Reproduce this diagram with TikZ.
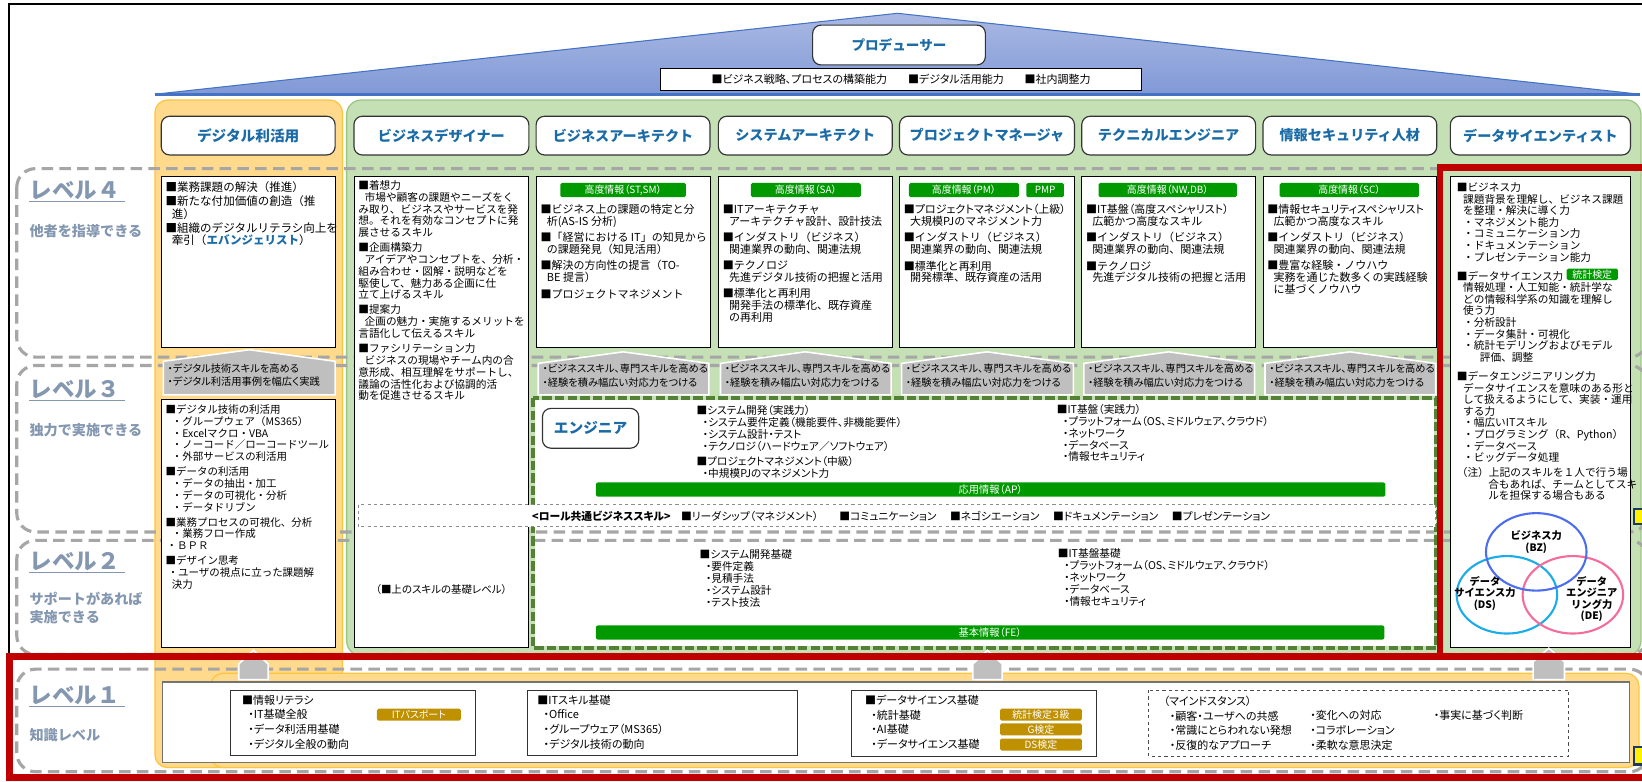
\documentclass[tikz,border=0pt]{standalone}
\usepackage{fontspec}
\setmainfont{Noto Sans CJK JP}
\newfontfamily\jpn[RawFeature={+palt}]{Noto Sans CJK JP}
\usetikzlibrary{calc}
\newcommand{\myind}{\hspace*{6pt}}
\definecolor{hblue}{HTML}{1A6BA6}
\definecolor{lblue}{HTML}{8497B0}
\definecolor{bgreen}{HTML}{009A00}
\definecolor{bgold}{HTML}{BF9000}
\definecolor{orgF}{HTML}{FFD98C}
\definecolor{orgE}{HTML}{FFC43D}
\definecolor{grnF}{HTML}{C5E0B4}
\definecolor{grnE}{HTML}{9CC584}
\definecolor{lgray}{HTML}{A6A6A6}
\definecolor{pgray}{HTML}{BFBFBF}
\definecolor{egreen}{HTML}{548235}
\definecolor{redF}{HTML}{C00000}
\definecolor{roofT}{HTML}{AAB9E3}
\definecolor{roofB}{HTML}{8099D6}
\definecolor{roofE}{HTML}{4472C4}
\definecolor{vblue}{HTML}{4D6DF0}
\definecolor{vcyan}{HTML}{1AACE8}
\definecolor{vpink}{HTML}{F56C9C}
\definecolor{mnavy}{HTML}{1F3864}
\begin{document}
\begin{tikzpicture}[x=1pt,y=-1pt,
 wbox/.style={draw=black, line width=0.8pt, fill=white},
 hdr/.style={draw=black!80, line width=1.1pt, fill=white, rounded corners=8pt, minimum height=37pt, inner sep=0pt, font=\fontsize{13.5}{15}\selectfont\bfseries, text=hblue},
 tx/.style={anchor=north west, align=left, inner sep=0pt, font=\fontsize{10.5}{11.2}\selectfont},
 txd/.style={anchor=north west, align=left, inner sep=0pt, font=\fontsize{10.2}{11.3}\selectfont},
 txn/.style={anchor=north west, align=left, inner sep=0pt, font=\jpn\fontsize{10.2}{11.3}\selectfont},
 lone/.style={anchor=north west, align=left, inner sep=0pt, font=\jpn\fontsize{10.5}{14}\selectfont},
 gbadge/.style={fill=bgreen, rounded corners=1.5pt, text=white, inner sep=0pt, minimum height=13.5pt, font=\jpn\fontsize{9.5}{10}\selectfont},
 ybadge/.style={fill=bgold, rounded corners=1.5pt, text=white, inner sep=0pt, minimum height=11.5pt, minimum width=78pt, font=\jpn\fontsize{9.5}{10}\selectfont},
 lvl/.style={draw=lgray, line width=3pt, dash pattern=on 11pt off 6pt, rounded corners=18pt},
 penta/.style={fill=pgray, draw=white, line width=1.5pt},
 ptx/.style={anchor=north west, align=left, inner sep=0pt, font=\jpn\fontsize{9.8}{14}\selectfont},
 lvltitle/.style={anchor=west, inner sep=0pt, text=lblue, font=\fontsize{21.5}{24}\selectfont\bfseries},
 lvlsub/.style={anchor=west, inner sep=0pt, text=lblue, font=\fontsize{13.5}{17}\selectfont\bfseries},
 ul/.style={lblue, line width=1.3pt},
 gbar/.style={fill=bgreen, rounded corners=2pt, text=white, inner sep=0pt, minimum height=13.5pt, font=\jpn\fontsize{9.8}{10}\selectfont},
 venn/.style={align=center, inner sep=0pt, font=\fontsize{9.8}{11}\selectfont\bfseries}
]
\useasboundingbox (0,0) rectangle (1568,746);
\fill[white] (0,0) rectangle (1568,746);
\draw[black, line width=1.5pt] (8.5,746) -- (8.5,4) -- (1568,4);

% roof
\shade[top color=roofT, bottom color=roofB] (148,90) -- (857,12.7) -- (1566,90) -- cycle;
\draw[roofE, line width=1pt] (148,90) -- (857,12.7) -- (1566,90);
\draw[roofE, line width=2.5pt] (148,90) -- (1566,90);
\node[hdr, minimum width=165pt, minimum height=38pt, font=\fontsize{13}{15}\selectfont\bfseries] (prod) at (858.5,43) {プロデューサー};
\node[draw=black, fill=white, line width=0.8pt, minimum width=459pt, minimum height=21pt, inner sep=0pt, font=\jpn\fontsize{10.5}{12}\selectfont] (pskill) at (860.5,76) {■ビジネス戦略、プロセスの構築能力\hspace{20pt}■デジタル活用能力\hspace{20pt}■社内調整力};

% backgrounds
\draw[fill=orgF, draw=orgE, line width=1.2pt, rounded corners=12pt] (148,95.5) rectangle (327,733);
\draw[fill=orgF, draw=orgE, line width=1.2pt, rounded corners=12pt] (201,643) rectangle (1565,733);
\draw[fill=grnF, draw=grnE, line width=1.2pt, rounded corners=14pt] (331,95.5) rectangle (1567,626);
\fill[white] (509,380) rectangle (1371,619);

% level bands
\draw[lvl] (16,161) rectangle (1574,341);
\draw[lvl] (16,349) rectangle (1574,508);
\draw[lvl] (16,516) rectangle (1574,625);
\draw[lvl] (16,639) rectangle (1574,737);

\node[lvltitle] (l4t) at (28,182) {レベル４};
\draw[ul] ([yshift=-1.5pt]l4t.south west) -- ([yshift=-1.5pt,xshift=5pt]l4t.south east);
\node[lvlsub] (l4s) at (28,221) {他者を指導できる};
\node[lvltitle] (l3t) at (28,372) {レベル３};
\draw[ul] ([yshift=-1.5pt]l3t.south west) -- ([yshift=-1.5pt,xshift=5pt]l3t.south east);
\node[lvlsub] (l3s) at (28,411) {独力で実施できる};
\node[lvltitle] (l2t) at (28,536) {レベル２};
\draw[ul] ([yshift=-1.5pt]l2t.south west) -- ([yshift=-1.5pt,xshift=5pt]l2t.south east);
\node[lvlsub, anchor=north west, align=left] (l2s) at (28,565) {サポートがあれば\\実施できる};
\node[lvltitle] (l1t) at (28,664) {レベル１};
\draw[ul] ([yshift=-1.5pt]l1t.south west) -- ([yshift=-1.5pt,xshift=5pt]l1t.south east);
\node[lvlsub] (l1s) at (28,702) {知識レベル};

% headers
\node[hdr, minimum width=166pt, font=\fontsize{14}{15}\selectfont\bfseries] (hdig) at (237,129.5) {デジタル利活用};
\node[hdr, minimum width=167pt] (hbd) at (421.5,129.5) {ビジネスデザイナー};
\node[hdr, minimum width=166pt] (hba) at (595,129.5) {ビジネスアーキテクト};
\node[hdr, minimum width=166pt] (hsa) at (769,129.5) {システムアーキテクト};
\node[hdr, minimum width=167pt] (hpm) at (942.5,129.5) {プロジェクトマネージャ};
\node[hdr, minimum width=166pt] (hte) at (1116,129.5) {テクニカルエンジニア};
\node[hdr, minimum width=166pt] (hsc) at (1289,129.5) {情報セキュリティ人材};
\node[hdr, minimum width=172pt] (hds) at (1471,129.5) {データサイエンティスト};

% white boxes
\draw[wbox] (154,168) rectangle (320,332);
\draw[wbox] (338,168) rectangle (505,618);
\draw[wbox] (512,168) rectangle (678,332);
\draw[wbox] (686,168) rectangle (852,332);
\draw[wbox] (859,168) rectangle (1026,332);
\draw[wbox] (1033,168) rectangle (1199,332);
\draw[wbox] (1206,168) rectangle (1372,332);
\draw[wbox] (1385,168) rectangle (1557,618);
\draw[wbox] (154,381) rectangle (320,618);

% digital L4
\node[tx, font=\fontsize{11}{11.8}\selectfont] (dig4) at (158,173.5) {■業務課題の解決（推進）\\[1.5pt]
■新たな付加価値の創造（推\\
\myind 進）\\[2pt]
■組織のデジタルリテラシ向上を\\
\myind 牽引（{\color{hblue}\bfseries エバンジェリスト}）};

% BD
\node[txd] (bdtx) at (342,172) {■着想力\\
\myind 市場や顧客の課題やニーズをく\\
み取り、ビジネスやサービスを発\\
想。それを有効なコンセプトに発\\
展させるスキル\\[3pt]
■企画構築力\\
\myind アイデアやコンセプトを、分析・\\
組み合わせ・図解・説明などを\\
駆使して、魅力ある企画に仕\\
立て上げるスキル\\[3pt]
■提案力\\
\myind 企画の魅力・実施するメリットを\\
言語化して伝えるスキル\\[3pt]
■ファシリテーション力\\
\myind ビジネスの現場やチーム内の合\\
意形成、相互理解をサポートし、\\
議論の活性化および協調的活\\
動を促進させるスキル};

% badges
\node[gbadge, minimum width=120pt] (bba) at (595,181.5) {高度情報（ST,SM）};
\node[gbadge, minimum width=105pt] (bsa) at (769.5,181.5) {高度情報（SA）};
\node[gbadge, minimum width=105pt] (bpm) at (920.5,181.5) {高度情報（PM）};
\node[gbadge, minimum width=36pt] (bpmp) at (998,181.5) {PMP};
\node[gbadge, minimum width=132pt] (bte) at (1115,181.5) {高度情報（NW,DB）};
\node[gbadge, minimum width=133pt] (bsc) at (1288.5,181.5) {高度情報（SC）};

\node[tx] (batx) at (516,195) {■ビジネス上の課題の特定と分\\
\myind 析(AS-IS 分析)\\[4.5pt]
■「経営における IT」の知見から\\
\myind の課題発見（知見活用）\\[4.5pt]
■解決の方向性の提言（TO-\\
\myind BE 提言）\\[4.5pt]
■プロジェクトマネジメント};
\node[tx] (satx) at (690,195) {■ITアーキテクチャ\\
\myind アーキテクチャ設計、設計技法\\[4.5pt]
■インダストリ（ビジネス）\\
\myind 関連業界の動向、関連法規\\[4.5pt]
■テクノロジ\\
\myind 先進デジタル技術の把握と活用\\[4.5pt]
■標準化と再利用\\
\myind 開発手法の標準化、既存資産\\
\myind の再利用};
\node[tx] (pmtx) at (863,195) {{\jpn ■プロジェクトマネジメント（上級）}\\
\myind 大規模PJのマネジメント力\\[4.5pt]
■インダストリ（ビジネス）\\
\myind 関連業界の動向、関連法規\\[4.5pt]
■標準化と再利用\\
\myind 開発標準、既存資産の活用};
\node[tx] (tetx) at (1037,195) {{\jpn ■IT基盤（高度スペシャリスト）}\\
\myind 広範かつ高度なスキル\\[4.5pt]
■インダストリ（ビジネス）\\
\myind 関連業界の動向、関連法規\\[4.5pt]
■テクノロジ\\
\myind 先進デジタル技術の把握と活用};
\node[tx] (sctx) at (1210,195) {{\jpn ■情報セキュリティスペシャリスト}\\
\myind 広範かつ高度なスキル\\[4.5pt]
■インダストリ（ビジネス）\\
\myind 関連業界の動向、関連法規\\[4.5pt]
■豊富な経験・ノウハウ\\
\myind 実務を通じた数多くの実践経験\\
\myind に基づくノウハウ};

% DS
\node[tx, font=\fontsize{10.2}{11.1}\selectfont] (dstx) at (1391,174) {■ビジネス力\\
\myind 課題背景を理解し、ビジネス課題\\
\myind を整理・解決に導く力\\
\myind・マネジメント能力\\
\myind・コミュニケーション力\\
\myind・ドキュメンテーション\\
\myind・プレゼンテーション能力\\[7pt]
■データサイエンス力\\
\myind 情報処理・人工知能・統計学な\\
\myind どの情報科学系の知識を理解し\\
\myind 使う力\\
\myind・分析設計\\
\myind・データ集計・可視化\\
\myind・統計モデリングおよびモデル\\
\myind\hspace*{16pt}評価、調整\\[7pt]
■データエンジニアリング力\\
\myind データサイエンスを意味のある形と\\
\myind して扱えるようにして、実装・運用\\
\myind する力\\
\myind・幅広いITスキル\\
\myind・プログラミング（R、Python）\\
\myind・データベース\\
\myind・ビッグデータ処理\\[3pt]
（注）上記のスキルを１人で行う場\\
\hspace*{30pt}合もあれば、チームとしてスキ\\
\hspace*{30pt}ルを担保する場合もある};
\node[gbadge, minimum width=49pt, minimum height=11pt] (bds) at (1520.5,262) {統計検定};

% Venn
\draw[vcyan, line width=2pt] (1439,568) ellipse [x radius=48, y radius=37];
\draw[vpink, line width=2pt] (1502,568) ellipse [x radius=48, y radius=37];
\draw[vblue, line width=2pt] (1467,527) ellipse [x radius=48, y radius=37];
\node[venn] (vbz) at (1467,517.5) {ビジネス力\\(BZ)};
\node[venn] (vds) at (1418,566.5) {データ\\サイエンス力\\(DS)};
\node[venn] (vde) at (1520,572) {データ\\エンジニア\\リング力\\(DE)};

% digital L3
\node[txd, font=\fontsize{10}{11.3}\selectfont] (dig3) at (158,386) {■デジタル技術の利活用\\
\myind・グループウェア（MS365）\\
\myind・Excelマクロ・VBA\\
\myind・ノーコード／ローコードツール\\
\myind・外部サービスの利活用\\[3pt]
■データの利活用\\
\myind・データの抽出・加工\\
\myind・データの可視化・分析\\
\myind・データドリブン\\[3pt]
■業務プロセスの可視化、分析\\
\myind・業務フロー作成\\
\hspace*{1pt}・ＢＰＲ\\[3pt]
■デザイン思考\\
\hspace*{2pt}・ユーザの視点に立った課題解\\
\myind 決力};

% pentagons L4 -> L3
\draw[penta] (156,377) -- (156,345) -- (238,334) -- (320,345) -- (320,377) -- cycle;
\node[ptx, font=\jpn\fontsize{9.8}{13}\selectfont] (pdig) at (160,347) {・デジタル技術スキルを高める\\・デジタル利活用事例を幅広く実践};
\draw[penta] (514,377) -- (514,347) -- (595,336) -- (677,347) -- (677,377) -- cycle;
\draw[penta] (688,377) -- (688,347) -- (769,336) -- (851,347) -- (851,377) -- cycle;
\draw[penta] (861,377) -- (861,347) -- (942.5,336) -- (1025,347) -- (1025,377) -- cycle;
\draw[penta] (1035,377) -- (1035,347) -- (1116,336) -- (1198,347) -- (1198,377) -- cycle;
\draw[penta] (1208,377) -- (1208,347) -- (1289,336) -- (1371,347) -- (1371,377) -- cycle;
\node[ptx] (pba) at (518,347) {・ビジネススキル、専門スキルを高める\\・経験を積み幅広い対応力をつける};
\node[ptx] (psa) at (692,347) {・ビジネススキル、専門スキルを高める\\・経験を積み幅広い対応力をつける};
\node[ptx] (ppm) at (865,347) {・ビジネススキル、専門スキルを高める\\・経験を積み幅広い対応力をつける};
\node[ptx] (pte) at (1039,347) {・ビジネススキル、専門スキルを高める\\・経験を積み幅広い対応力をつける};
\node[ptx] (psc) at (1212,347) {・ビジネススキル、専門スキルを高める\\・経験を積み幅広い対応力をつける};

% engineer
\draw[grnF, line width=3.5pt] (509,380) rectangle (1371,619);
\draw[egreen, line width=3.5pt, dash pattern=on 9pt off 3pt] (509,380) rectangle (1371,619);
\node[hdr, minimum width=92pt, minimum height=38pt, font=\fontsize{14}{16}\selectfont\bfseries] (eng) at (564,409) {エンジニア};
\node[txn] (e3a) at (665,387) {■システム開発（実践力）\\
\myind・システム要件定義（機能要件、非機能要件）\\
\myind・システム設計・テスト\\
\myind・テクノロジ（ハードウェア／ソフトウェア）\\[3.7pt]
■プロジェクトマネジメント（中級）\\
\myind・中規模PJのマネジメント力};
\node[txn] (e3b) at (1009,386) {■IT基盤（実践力）\\
\myind・プラットフォーム（OS、ミドルウェア、クラウド）\\
\myind・ネットワーク\\
\myind・データベース\\
\myind・情報セキュリティ};
\node[gbar, minimum width=754pt] (ap) at (946,467.5) {応用情報（AP）};
\draw[black!45, line width=0.8pt, dashed, fill=white] (342,482) rectangle (1371,503);
\node[anchor=west, inner sep=0pt, font=\jpn\fontsize{10.3}{11}\selectfont] (role) at (508,493) {{\bfseries <ロール共通ビジネススキル>}\hspace{10pt}■リーダシップ（マネジメント）\hspace{20pt}■コミュニケーション\hspace{13pt}■ネゴシエーション\hspace{13pt}■ドキュメンテーション\hspace{13pt}■プレゼンテーション};
\node[txn] (e2a) at (668,525) {■システム開発基礎\\
\myind・要件定義\\
\myind・見積手法\\
\myind・システム設計\\
\myind・テスト技法};
\node[txn] (e2b) at (1010,524) {■IT基盤基礎\\
\myind・プラットフォーム（OS、ミドルウェア、クラウド）\\
\myind・ネットワーク\\
\myind・データベース\\
\myind・情報セキュリティ};
\node[gbar, minimum width=753pt] (fe) at (945.5,604) {基本情報（FE）};
\node[inner sep=0pt, font=\jpn\fontsize{10}{11}\selectfont] (bdbase) at (421.5,563) {（■上のスキルの基礎レベル）};

% level 1
\draw[draw=black!55, line width=1.5pt, fill=white] (155,651) rectangle (1556,728);
\draw[wbox, draw=black!80] (220,659) rectangle (454,721);
\node[lone] (k1) at (231,663.5) {■情報リテラシ\\
\myind・IT基礎全般\\
\myind・データ利活用基礎\\
\myind・デジタル全般の動向};
\node[ybadge, minimum width=80pt] (itp) at (400,682.5) {ITパスポート};
\draw[wbox, draw=black!80] (504,659) rectangle (761,721);
\node[lone] (k2) at (513,663.5) {■ITスキル基礎\\
\myind・Office\\
\myind・グループウェア（MS365）\\
\myind・デジタル技術の動向};
\draw[wbox, draw=black!80] (813,659) rectangle (1047,722);
\node[lone] (k3) at (826,663.5) {■データサイエンス基礎\\
\myind・統計基礎\\
\myind・AI基礎\\
\myind・データサイエンス基礎};
\node[ybadge] (b3a) at (994,682.5) {統計検定３級};
\node[ybadge] (b3b) at (994,696.5) {G検定};
\node[ybadge] (b3c) at (994,711) {DS検定};
\draw[black!70, line width=0.8pt, dashed] (1097,659) rectangle (1498,722);
\node[lone] (m0) at (1111,664.5) {（マインドスタンス）\\
\myind・顧客・ユーザへの共感\\
\myind・常識にとらわれない発想\\
\myind・反復的なアプローチ};
\node[lone] (m1) at (1251,678.5) {・変化への対応\\・コラボレーション\\・柔軟な意思決定};
\node[lone] (m2) at (1369,678.5) {・事実に基づく判断};

% up arrows
\draw[penta] (228,649) -- (228,634) -- (242,621) -- (256,634) -- (256,649) -- cycle;
\draw[penta] (929,649) -- (929,634) -- (943,621) -- (957,634) -- (957,649) -- cycle;
\draw[penta] (1464,649) -- (1464,632) -- (1479,619) -- (1494,632) -- (1494,649) -- cycle;

% red frame
\draw[redF, line width=6pt] (9,627) rectangle (1590,742.5);
\draw[redF, line width=6pt] (1375,627) -- (1375,160) -- (1590,160);

% edge markers
\draw[fill=yellow, draw=mnavy, line width=2pt] (1560,486) rectangle (1574,500);
\draw[fill=yellow, draw=mnavy, line width=2pt] (1560,713) rectangle (1574,730);
\end{tikzpicture}
\end{document}
